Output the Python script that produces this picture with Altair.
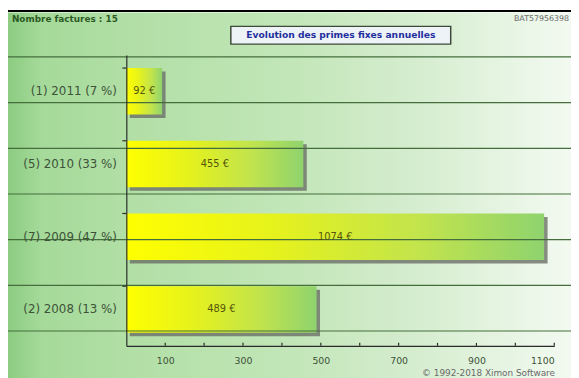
import altair as alt
import pandas as pd

# ---- data ----
CATEGORIES = ["(1) 2011 (7 %)", "(5) 2010 (33 %)", "(7) 2009 (47 %)", "(2) 2008 (13 %)"]
VALUES = [92, 455, 1074, 489]
BAR_LABELS = ["92 €", "455 €", "1074 €", "489 €"]
X_TICKS = [100, 200, 300, 400, 500, 600, 700, 800, 900, 1000, 1100]
GRID_ROWS = [0, 1, 2, 3, 4, 5, 6]
HEADER_LEFT = ["Nombre factures : 15"]
HEADER_RIGHT = ["BAT57956398"]
TITLE = ["Evolution des primes fixes annuelles"]
FOOTER = ["© 1992-2018 Ximon Software"]

FONT = "DejaVu Sans"
W, H = 434, 295

bars_df = pd.DataFrame({"cat": CATEGORIES, "value": VALUES, "label": BAR_LABELS})
one = pd.DataFrame({"a": [0]})

x_scale = alt.Scale(domain=[0, 1100], nice=False, zero=True)
y_scale = alt.Scale(domain=CATEGORIES, paddingInner=0.36, paddingOuter=0.18)

x_axis = alt.Axis(
    values=X_TICKS, format="d", labelExpr="datum.value % 200 == 100 ? datum.label : ''",
    ticks=False, grid=False, title=None, domainColor="#2b2b2b", domainWidth=1.2,
    labelFont=FONT, labelFontSize=9.5, labelColor="#3d5238", labelPadding=10, zindex=2)
y_axis = alt.Axis(
    ticks=False, grid=False, title=None, domainColor="#2b2b2b", domainWidth=1.2,
    labelFont=FONT, labelFontSize=12, labelColor="#3d5238", labelPadding=10, zindex=2)

bg_grad = alt.LinearGradient(
    gradient="linear", x1=0, x2=1, y1=0, y2=0,
    stops=[
        alt.GradientStop(color="#8ccc81", offset=0),
        alt.GradientStop(color="#a5da9a", offset=0.06),
        alt.GradientStop(color="#b2dfa6", offset=0.22),
        alt.GradientStop(color="#c2e6b8", offset=0.5),
        alt.GradientStop(color="#d8eed2", offset=0.75),
        alt.GradientStop(color="#f3faf1", offset=1),
    ],
)
bar_grad = alt.LinearGradient(
    gradient="linear", x1=0, x2=1, y1=0, y2=0,
    stops=[
        alt.GradientStop(color="#ffff00", offset=0),
        alt.GradientStop(color="#e6f21c", offset=0.35),
        alt.GradientStop(color="#c2e44c", offset=0.7),
        alt.GradientStop(color="#8fd36e", offset=1),
    ],
)

background = alt.Chart(one).mark_rect(color=bg_grad).encode(
    x=alt.value(-120), x2=alt.value(452), y=alt.value(-43), y2=alt.value(330)
)
top_line = alt.Chart(one).mark_rule(color="#000000", strokeWidth=2).encode(
    x=alt.value(-120), x2=alt.value(452), y=alt.value(-44.5)
)

shadow = alt.Chart(bars_df).mark_bar(color="#6b6f68", opacity=0.8, xOffset=3.5, yOffset=3.5).encode(
    x=alt.X("value:Q", scale=x_scale, axis=x_axis),
    y=alt.Y("cat:N", scale=y_scale, sort=CATEGORIES, axis=y_axis),
)
bars = alt.Chart(bars_df).mark_bar(color=bar_grad).encode(
    x=alt.X("value:Q", scale=x_scale, axis=x_axis),
    y=alt.Y("cat:N", scale=y_scale, sort=CATEGORIES, axis=y_axis),
)
part_a = alt.layer(background, top_line, shadow, bars)

grid = alt.Chart(pd.DataFrame({"row": GRID_ROWS})).mark_rule(color="#456e3c", strokeWidth=1.2).encode(
    y=alt.Y("row:Q", scale=alt.Scale(domain=[-0.043, 6.324], reverse=True, nice=False, zero=False), axis=None),
    x=alt.value(-120), x2=alt.value(452),
)

bar_text = alt.Chart(bars_df).transform_calculate(half="datum.value / 2").mark_text(
    font=FONT, fontSize=10, color="#55550a"
).encode(
    x=alt.X("half:Q", scale=x_scale, axis=x_axis),
    y=alt.Y("cat:N", scale=y_scale, sort=CATEGORIES, axis=None),
    text="label:N",
)
y_ticks = alt.Chart(bars_df).mark_rule(color="#2b2b2b", strokeWidth=1.2).encode(
    y=alt.Y("cat:N", scale=y_scale, sort=CATEGORIES, axis=None, bandPosition=0),
    x=alt.value(-4), x2=alt.value(0),
)
x_ticks = alt.Chart(pd.DataFrame({"t": X_TICKS})).mark_rule(color="#2b2b2b", strokeWidth=1.2).encode(
    x=alt.X("t:Q", scale=x_scale, axis=x_axis),
    y=alt.value(H - 3), y2=alt.value(H),
)
title_box = alt.Chart(one).mark_rect(fill="#eef3f8", stroke="#3c4a38", strokeWidth=1.5).encode(
    x=alt.value(106), x2=alt.value(329), y=alt.value(-29), y2=alt.value(-11)
)
title_text = alt.Chart(pd.DataFrame({"t": TITLE})).mark_text(
    font=FONT, fontSize=9.3, fontWeight="bold", color="#1f2f9e"
).encode(x=alt.value(217.5), y=alt.value(-20), text="t:N")
head_left = alt.Chart(pd.DataFrame({"t": HEADER_LEFT})).mark_text(
    font=FONT, fontSize=9, fontWeight="bold", color="#2c5a24", align="left"
).encode(x=alt.value(-116), y=alt.value(-36), text="t:N")
head_right = alt.Chart(pd.DataFrame({"t": HEADER_RIGHT})).mark_text(
    font=FONT, fontSize=8, color="#6a6a6a", align="right"
).encode(x=alt.value(449), y=alt.value(-36), text="t:N")
footer = alt.Chart(pd.DataFrame({"t": FOOTER})).mark_text(
    font=FONT, fontSize=9, color="#6a6a6a", align="left"
).encode(x=alt.value(300), y=alt.value(H + 28), text="t:N")

part_c = alt.layer(bar_text, y_ticks, x_ticks, title_box, title_text, head_left, head_right, footer)

chart = alt.layer(part_a, grid, part_c).resolve_scale(y="independent").properties(
    width=W, height=H,
    autosize=alt.AutoSizeParams(type="none"),
    padding={"left": 120, "top": 45, "right": 17, "bottom": 30},
    background="#ffffff",
).configure_view(strokeWidth=0)

chart.save("out.html", embed_options={"renderer": "svg", "actions": False})
